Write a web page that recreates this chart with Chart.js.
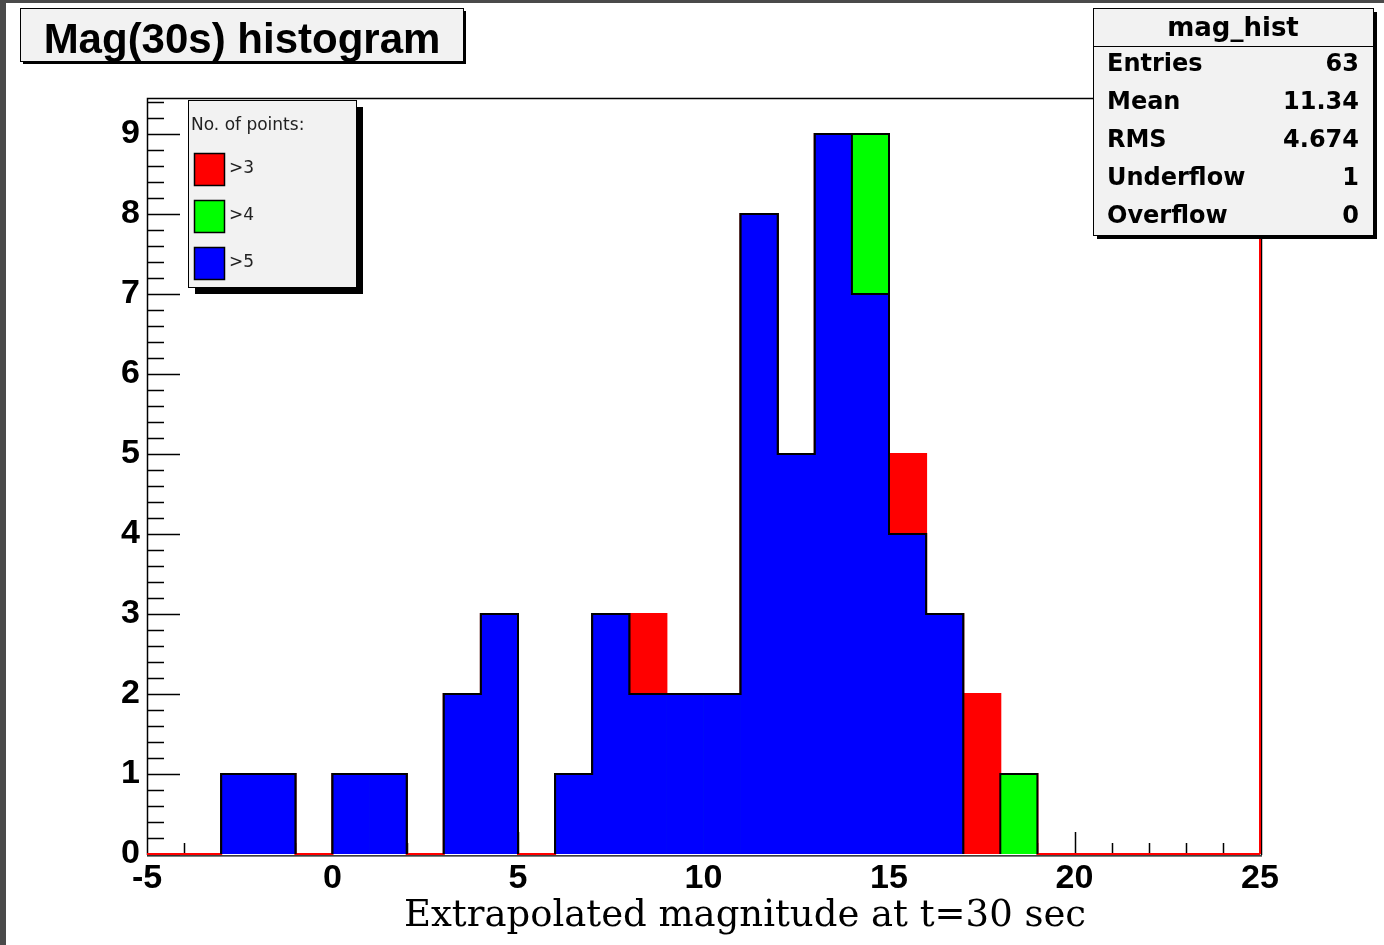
<!DOCTYPE html>
<html>
<head>
<meta charset="utf-8">
<title>Mag(30s) histogram</title>
<script src="https://cdn.jsdelivr.net/npm/chart.js@4.4.1/dist/chart.umd.min.js"></script>
<style>
  html, body { margin: 0; padding: 0; background: #fff; }
  #wrap { width: 1384px; height: 945px; }
</style>
</head>
<body>
<div id="wrap"><canvas id="magChart" width="1384" height="945"></canvas></div>
<script>
// bins: left edge of each 1-mag bin
const binLow = [-5, -4, -3, -2, -1, 0, 1, 2, 3, 4, 5, 6, 7, 8, 9, 10, 11, 12, 13, 14, 15, 16, 17, 18, 19, 20, 21, 22, 23, 24];
const binWidth = 1;

// counts per bin, for each "no. of points" cut
const countsOver3 = [0, 0, 1, 1, 0, 1, 1, 0, 2, 3, 0, 1, 3, 3, 2, 2, 8, 5, 9, 9, 5, 3, 2, 1, 0, 0, 0, 0, 0, 0];
const countsOver4 = [0, 0, 1, 1, 0, 1, 1, 0, 2, 3, 0, 1, 3, 2, 2, 2, 8, 5, 9, 9, 4, 3, 0, 1, 0, 0, 0, 0, 0, 0];
const countsOver5 = [0, 0, 1, 1, 0, 1, 1, 0, 2, 3, 0, 1, 3, 2, 2, 2, 8, 5, 9, 7, 4, 3, 0, 0, 0, 0, 0, 0, 0, 0];

const seriesLabels = [">3", ">4", ">5"];
const xTickLabels = [-5, 0, 5, 10, 15, 20, 25];
const yTickLabels = [0, 1, 2, 3, 4, 5, 6, 7, 8, 9];

const statsName = "mag_hist";
const statsLabels = ["Entries", "Mean", "RMS", "Underflow", "Overflow"];
const statsValues = ["63", "11.34", "4.674", "1", "0"];

const xMin = -5, xMax = 25, yMax = 9.45;

const color = {
  over3: "#ff0000",
  over4: "#00ff00",
  over5: "#0000ff",
  box: "#f2f2f2"
};

// empty bins are left out so nothing is painted over the baseline
function barData(counts) {
  return binLow.map((lo, i) => ({ x: lo + binWidth / 2, y: counts[i] === 0 ? null : counts[i] }));
}

// step outline of a histogram, two points per bin
function outlineData(counts) {
  const pts = [];
  binLow.forEach((lo, i) => {
    pts.push({ x: lo, y: counts[i] }, { x: lo + binWidth, y: counts[i] });
  });
  return pts;
}

function barSet(label, counts, col, order) {
  return {
    type: "bar",
    label: label,
    data: barData(counts),
    backgroundColor: col,
    borderWidth: 0,
    grouped: false,
    barPercentage: 1,
    categoryPercentage: 1,
    order: order
  };
}

function outlineSet(counts, col, order, skipZero) {
  return {
    type: "line",
    label: "",
    data: outlineData(counts),
    borderColor: col,
    borderWidth: 2,
    pointRadius: 0,
    tension: 0,
    fill: false,
    clip: 3,
    order: order,
    segment: {
      borderColor: ctx => (skipZero && ctx.p0.parsed.y === 0 && ctx.p1.parsed.y === 0) ? "rgba(0,0,0,0)" : col
    }
  };
}

function drawBox(ctx, x, y, w, h, shadow) {
  ctx.fillStyle = "#000";
  ctx.fillRect(x + shadow, y + shadow, w, h);
  ctx.fillStyle = color.box;
  ctx.fillRect(x, y, w, h);
  ctx.strokeStyle = "#000";
  ctx.lineWidth = 1;
  ctx.strokeRect(x + 0.5, y + 0.5, w, h);
  ctx.fillStyle = "#000";
}

const rootLook = {
  id: "rootLook",
  beforeDraw(chart) {
    const ctx = chart.ctx;
    ctx.save();
    ctx.fillStyle = "#fff";
    ctx.fillRect(0, 0, chart.width, chart.height);
    ctx.fillStyle = "#4a4a4a";
    ctx.fillRect(0, 0, chart.width, 3);
    ctx.fillRect(0, 0, 6, chart.height);
    ctx.restore();
  },
  beforeDatasetsDraw(chart) {
    const ctx = chart.ctx;
    const a = chart.chartArea;
    const xs = chart.scales.x, ys = chart.scales.y;
    ctx.save();
    ctx.strokeStyle = "#000";
    ctx.lineWidth = 1.5;
    ctx.beginPath();
    // y ticks, 5 minor divisions
    for (let i = 0; i * 0.2 <= yMax + 1e-9; i++) {
      const v = i * 0.2;
      const py = Math.round(ys.getPixelForValue(v)) + 0.5;
      const len = i % 5 === 0 ? 33 : 17;
      ctx.moveTo(a.left, py);
      ctx.lineTo(a.left + len, py);
    }
    // x ticks
    for (let v = xMin + 1; v < xMax; v++) {
      const px = Math.round(xs.getPixelForValue(v)) + 0.5;
      const len = v % 5 === 0 ? 22 : 11;
      ctx.moveTo(px, a.bottom);
      ctx.lineTo(px, a.bottom - len);
    }
    ctx.stroke();
    // frame
    ctx.beginPath();
    ctx.moveTo(a.left + 0.5, a.bottom + 1);
    ctx.lineTo(a.left + 0.5, a.top + 0.5);
    ctx.lineTo(a.right + 1.5, a.top + 0.5);
    ctx.lineTo(a.right + 1.5, a.bottom + 1);
    ctx.stroke();
    ctx.restore();
  },
  afterDatasetsDraw(chart) {
    const ctx = chart.ctx;
    const a = chart.chartArea;
    ctx.save();
    ctx.strokeStyle = "#000";
    ctx.lineWidth = 1.2;
    ctx.beginPath();
    ctx.moveTo(a.left, a.bottom + 1.8);
    ctx.lineTo(a.right + 2, a.bottom + 1.8);
    ctx.stroke();
    ctx.strokeStyle = color.over3;
    ctx.lineWidth = 2;
    ctx.beginPath();
    ctx.moveTo(a.right, a.top);
    ctx.lineTo(a.right, a.bottom);
    ctx.stroke();
    ctx.restore();
  },
  afterDraw(chart) {
    const ctx = chart.ctx;
    ctx.save();

    // title box
    drawBox(ctx, 20, 8, 443, 53, 3);
    ctx.font = "bold 42px 'Liberation Sans', Arial, sans-serif";
    ctx.textAlign = "center";
    ctx.textBaseline = "alphabetic";
    ctx.fillText("Mag(30s) histogram", 242, 53);

    // stats box
    drawBox(ctx, 1093, 8, 280, 227, 4);
    ctx.beginPath();
    ctx.moveTo(1093, 46.5);
    ctx.lineTo(1373, 46.5);
    ctx.stroke();
    ctx.font = "bold 26px 'DejaVu Sans', sans-serif";
    ctx.fillText(statsName, 1233, 36);
    ctx.font = "bold 24px 'DejaVu Sans', sans-serif";
    statsLabels.forEach((lab, i) => {
      const by = 71 + i * 38;
      ctx.textAlign = "left";
      ctx.fillText(lab, 1107, by);
      ctx.textAlign = "right";
      ctx.fillText(statsValues[i], 1359, by);
    });

    // legend box
    drawBox(ctx, 188, 100, 168, 187, 7);
    ctx.fillStyle = "#222";
    ctx.textAlign = "left";
    ctx.font = "17px 'DejaVu Sans', sans-serif";
    ctx.fillText("No. of points:", 191, 130);
    const legendSets = chart.data.datasets.filter(d => d.type === "bar").sort((p, q) => q.order - p.order);
    legendSets.forEach((d, i) => {
      const sy = 153 + i * 47;
      ctx.fillStyle = d.backgroundColor;
      ctx.fillRect(194, sy, 30, 32);
      ctx.strokeStyle = "#000";
      ctx.lineWidth = 1.5;
      ctx.strokeRect(194.5, sy + 0.5, 30, 32);
      ctx.fillStyle = "#222";
      ctx.textBaseline = "middle";
      ctx.fillText(d.label, 229, sy + 16);
      ctx.textBaseline = "alphabetic";
    });

    // x axis title
    ctx.fillStyle = "#000";
    ctx.textAlign = "center";
    ctx.font = "37px 'DejaVu Serif', serif";
    ctx.fillText("Extrapolated magnitude at t=30 sec", 745, 926);

    ctx.restore();
  }
};

const tickFont = { family: "'Liberation Sans', Arial, sans-serif", weight: "bold", size: 34 };

new Chart(document.getElementById("magChart").getContext("2d"), {
  type: "bar",
  data: {
    datasets: [
      outlineSet(countsOver5, "#000", 0, true),
      barSet(seriesLabels[2], countsOver5, color.over5, 1),
      outlineSet(countsOver4, "#000", 2, true),
      barSet(seriesLabels[1], countsOver4, color.over4, 3),
      outlineSet(countsOver3, color.over3, 4, false),
      barSet(seriesLabels[0], countsOver3, color.over3, 5)
    ]
  },
  options: {
    responsive: false,
    animation: false,
    events: [],
    layout: { padding: { left: 0, top: 98, right: 124, bottom: 0 } },
    plugins: {
      legend: { display: false },
      title: { display: false },
      tooltip: { enabled: false }
    },
    scales: {
      x: {
        type: "linear",
        min: xMin,
        max: xMax,
        offset: false,
        grid: { display: false, drawTicks: false },
        border: { display: false },
        afterFit: s => { s.height = 91; },
        ticks: {
          stepSize: 1,
          maxTicksLimit: 100,
          autoSkip: false,
          maxRotation: 0,
          padding: 4,
          color: "#000",
          font: tickFont,
          callback: v => xTickLabels.includes(v) ? String(v) : ""
        }
      },
      y: {
        type: "linear",
        min: 0,
        max: yMax,
        grid: { display: false, drawTicks: false },
        border: { display: false },
        afterFit: s => { s.width = 147; },
        ticks: {
          stepSize: 1,
          includeBounds: false,
          padding: 7,
          color: "#000",
          font: tickFont,
          callback: v => yTickLabels.includes(v) ? String(v) : ""
        }
      }
    }
  },
  plugins: [rootLook]
});
</script>
</body>
</html>
